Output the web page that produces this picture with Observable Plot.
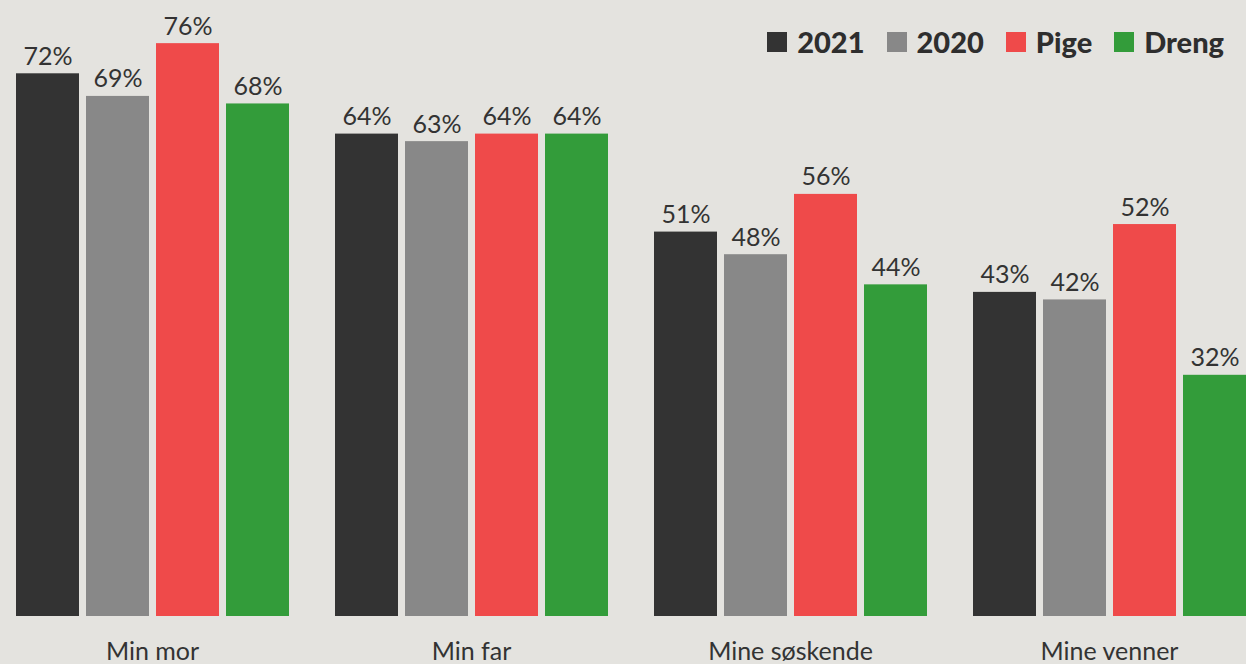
<!DOCTYPE html>
<html><head><meta charset="utf-8">
<script src="https://cdn.jsdelivr.net/npm/d3@7"></script>
<script src="https://cdn.jsdelivr.net/npm/@observablehq/plot@0.6"></script>
<style>
html,body{margin:0;padding:0;background:#e4e3df;}
#wrap{position:relative;width:1246px;height:664px;overflow:hidden;font-family:Lato,"Noto Sans",sans-serif;}
#legend{position:absolute;top:24px;right:22px;display:flex;align-items:center;gap:0;font-weight:900;font-size:29px;color:#2e2e2e;}
#legend span.sw{display:inline-block;width:20px;height:20px;margin-right:10px;}
#legend span.item{display:flex;align-items:center;margin-left:22px;}
</style></head>
<body><div id="wrap"><div id="legend"></div></div>
<script>
const categories = ["Min mor", "Min far", "Mine søskende", "Mine venner"];
const series = ["2021", "2020", "Pige", "Dreng"];
const colors = ["#333333", "#888888", "#ef4a4a", "#339c3a"];
const v2021 = [72, 64, 51, 43];
const v2020 = [69, 63, 48, 42];
const vPige = [76, 64, 56, 52];
const vDreng = [68, 64, 44, 32];

const seriesValues = [v2021, v2020, vPige, vDreng];
const data = [];
categories.forEach((c, i) => series.forEach((s, j) => data.push({cat: c, ser: s, val: seriesValues[j][i]})));

const chart = Plot.plot({
  width: 1246, height: 664,
  marginLeft: 12, marginRight: -2, marginTop: 13, marginBottom: 48,
  style: {background: "transparent", fontFamily: "Lato, 'Noto Sans', sans-serif"},
  fx: {domain: categories, paddingInner: 0.135, paddingOuter: 0, label: null},
  x: {domain: series, paddingInner: 0.1, paddingOuter: 0, axis: null},
  y: {domain: [0, 80], axis: null},
  color: {domain: series, range: colors},
  marks: [
    Plot.barY(data, {fx: "cat", x: "ser", y: "val", fill: "ser"}),
    Plot.text(data, {fx: "cat", x: "ser", y: "val", text: d => d.val + "%", lineAnchor: "bottom", dy: -9, fontSize: 25, fill: "#333"}),
    Plot.axisFx({anchor: "bottom", tickSize: 0, tickPadding: 26, fontSize: 25, color: "#333", label: null})
  ]
});
document.getElementById("wrap").appendChild(chart);

const leg = document.getElementById("legend");
series.forEach((s, i) => {
  const it = document.createElement("span"); it.className = "item";
  const sw = document.createElement("span"); sw.className = "sw"; sw.style.background = colors[i];
  it.appendChild(sw); it.appendChild(document.createTextNode(s));
  leg.appendChild(it);
});
</script></body></html>
